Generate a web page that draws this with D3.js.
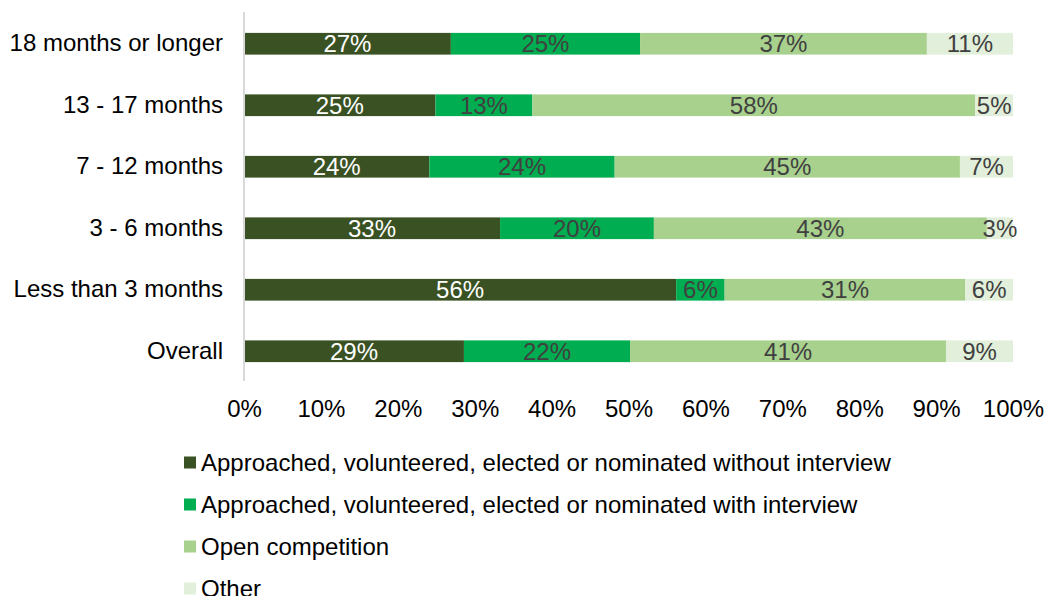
<!DOCTYPE html>
<html>
<head>
<meta charset="utf-8">
<script src="https://cdn.jsdelivr.net/npm/d3@7"></script>
<style>
  html, body { margin: 0; padding: 0; background: #ffffff; }
  svg { display: block; font-family: "Liberation Sans", Arial, sans-serif; }
</style>
</head>
<body>
<svg id="chart" width="1046" height="596"></svg>
<script>
// Length of time in role, top to bottom
const categories = [
  "18 months or longer",
  "13 - 17 months",
  "7 - 12 months",
  "3 - 6 months",
  "Less than 3 months",
  "Overall"
];

// Share of appointments by route (percent)
const withoutInterview = [26.9, 24.9, 24.1, 33.3, 56.2, 28.6];
const withInterview    = [24.6, 12.6, 24.1, 20.0, 6.3, 21.6];
const openCompetition  = [37.3, 57.6, 44.9, 43.3, 31.3, 41.1];
const other            = [11.2, 4.9, 6.9, 3.4, 6.2, 8.7];

const seriesNames = [
  "Approached, volunteered, elected or nominated without interview",
  "Approached, volunteered, elected or nominated with interview",
  "Open competition",
  "Other"
];
const seriesColors = ["#3a5223", "#00ad50", "#a9d18e", "#e2efda"];
const labelColors  = ["#ffffff", "#404040", "#404040", "#404040"];

const xTicks = [0, 10, 20, 30, 40, 50, 60, 70, 80, 90, 100];

const seriesValues = [withoutInterview, withInterview, openCompetition, other];
const keys = ["s0", "s1", "s2", "s3"];
const rows = categories.map((c, i) => {
  const r = { category: c };
  keys.forEach((k, j) => { r[k] = seriesValues[j][i]; });
  return r;
});

const svg = d3.select("#chart");
const fontSize = 24;

const x = d3.scaleLinear().domain([0, 100]).range([244, 1013]);
const y = d3.scaleBand().domain(categories).range([13, 382]).paddingInner(0.647).paddingOuter(0.3235);

const stack = d3.stack().keys(keys);
const stacked = stack(rows);

// Bars
const layers = svg.append("g").selectAll("g")
  .data(stacked)
  .join("g")
  .attr("fill", (d, i) => seriesColors[i]);

layers.selectAll("rect")
  .data(d => d)
  .join("rect")
  .attr("x", d => x(d[0]))
  .attr("y", d => y(d.data.category))
  .attr("width", d => x(d[1]) - x(d[0]))
  .attr("height", y.bandwidth());

// Value labels
const fmt = v => Math.round(v) + "%";
stacked.forEach((layer, i) => {
  svg.append("g").selectAll("text")
    .data(layer)
    .join("text")
    .attr("x", d => (x(d[0]) + x(d[1])) / 2)
    .attr("y", d => y(d.data.category) + y.bandwidth() / 2)
    .attr("dy", "0.36em")
    .attr("text-anchor", "middle")
    .attr("font-size", fontSize)
    .attr("fill", labelColors[i])
    .text(d => fmt(d[1] - d[0]));
});

// Category axis
const yAxis = svg.append("g")
  .attr("transform", `translate(${x(0)},0)`)
  .call(d3.axisLeft(y).tickSize(0).tickPadding(21));
yAxis.select(".domain").attr("stroke", "#d9d9d9").attr("stroke-width", 2)
  .attr("d", "M0,12V381");
yAxis.selectAll("text")
  .attr("font-size", fontSize)
  .attr("font-family", "Liberation Sans, Arial, sans-serif")
  .attr("fill", "#000000");

// Percentage axis
const xAxis = svg.append("g")
  .attr("transform", "translate(0,396)")
  .call(d3.axisBottom(x).tickValues(xTicks).tickFormat(d => d + "%").tickSize(0).tickPadding(4));
xAxis.select(".domain").remove();
xAxis.selectAll("text")
  .attr("font-size", fontSize)
  .attr("font-family", "Liberation Sans, Arial, sans-serif")
  .attr("fill", "#000000");

// Legend
const legend = svg.append("g").selectAll("g")
  .data(seriesNames)
  .join("g")
  .attr("transform", (d, i) => `translate(184,${462.5 + i * 42})`);
legend.append("rect")
  .attr("x", 0).attr("y", -6)
  .attr("width", 12).attr("height", 12)
  .attr("fill", (d, i) => seriesColors[i]);
legend.append("text")
  .attr("x", 17)
  .attr("dy", "0.36em")
  .attr("font-size", fontSize)
  .attr("fill", "#000000")
  .text(d => d);
</script>
</body>
</html>
